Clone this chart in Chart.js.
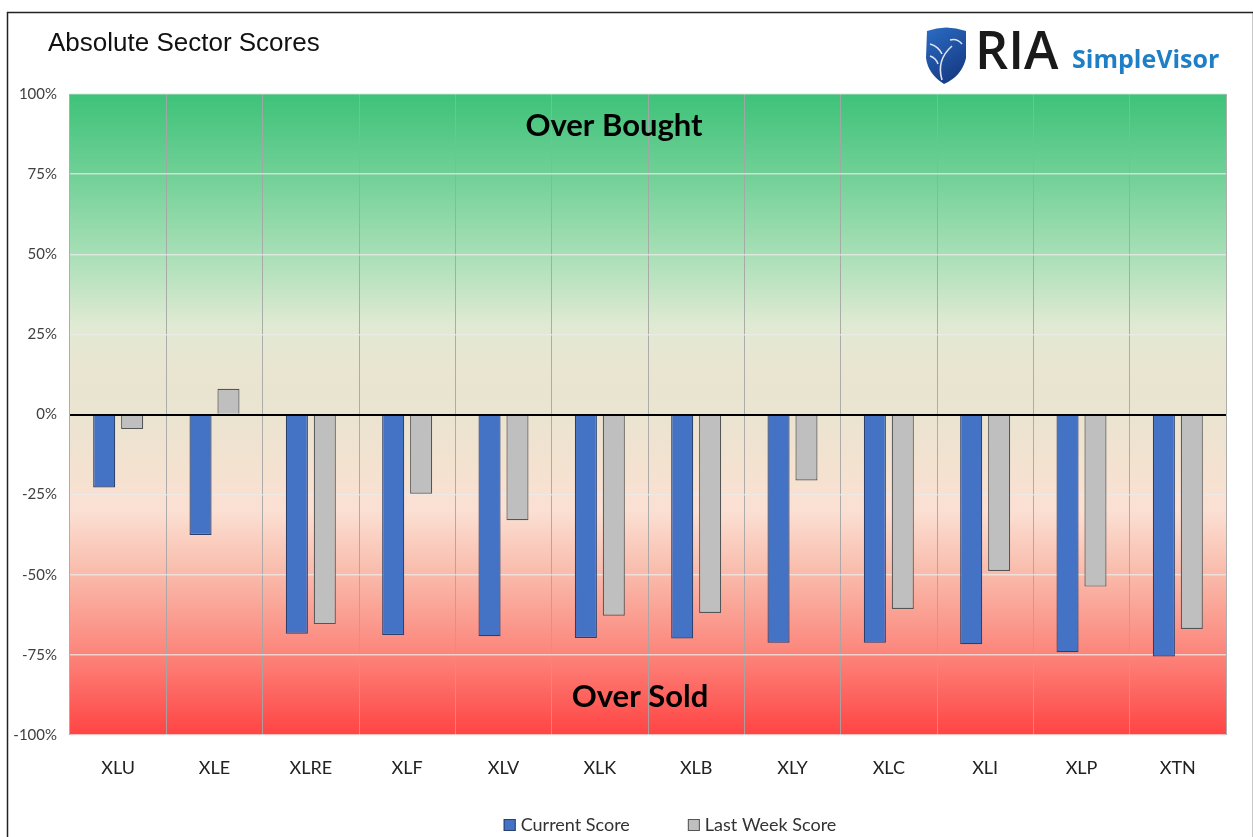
<!DOCTYPE html>
<html>
<head>
<meta charset="utf-8">
<script src="https://cdn.jsdelivr.net/npm/chart.js@4.4.1/dist/chart.umd.min.js"></script>
<style>
  html, body { margin: 0; padding: 0; background: #fff; }
  #wrap { width: 1253px; height: 837px; position: relative; }
</style>
</head>
<body>
<div id="wrap"><canvas id="sectorChart" width="1253" height="837"></canvas></div>
<script>
// data
const sectors = ['XLU', 'XLE', 'XLRE', 'XLF', 'XLV', 'XLK', 'XLB', 'XLY', 'XLC', 'XLI', 'XLP', 'XTN'];
const currentScore = [-22.8, -37.6, -68.4, -68.8, -69.2, -69.7, -69.9, -71.2, -71.2, -71.7, -74.2, -75.5];
const lastWeekScore = [-4.5, 8, -65.4, -24.7, -33, -62.8, -61.9, -20.6, -60.7, -48.8, -53.7, -66.9];
const seriesNames = ['Current Score', 'Last Week Score'];
const yTicks = [-100, -75, -50, -25, 0, 25, 50, 75, 100];

const chartTitle = 'Absolute Sector Scores';
const zoneTop = 'Over Bought';
const zoneBottom = 'Over Sold';

const blue = '#4472c4';
const grey = '#bfbfbf';

// background, frame, title, logo
const backdrop = {
    id: 'backdrop',
    beforeDraw(chart) {
        const ctx = chart.ctx;
        const area = chart.chartArea;
        const y = chart.scales.y;
        ctx.save();
        ctx.fillStyle = '#fff';
        ctx.fillRect(0, 0, chart.width, chart.height);

        // frame
        ctx.strokeStyle = '#222';
        ctx.lineWidth = 1.5;
        ctx.strokeRect(7.5, 12.5, 1246, 900);

        // zone gradient
        const g = ctx.createLinearGradient(0, y.getPixelForValue(100), 0, y.getPixelForValue(-100));
        const stops = [
            [100, 'rgb(62,194,121)'],
            [75, 'rgb(112,208,150)'],
            [50, 'rgb(168,223,182)'],
            [28, 'rgb(224,234,211)'],
            [15, 'rgb(233,229,209)'],
            [0, 'rgb(234,228,208)'],
            [-15, 'rgb(243,226,208)'],
            [-30, 'rgb(251,224,211)'],
            [-50, 'rgb(249,186,170)'],
            [-75, 'rgb(252,132,122)'],
            [-100, 'rgb(255,68,68)']
        ];
        stops.forEach(s => g.addColorStop((100 - s[0]) / 200, s[1]));
        ctx.fillStyle = g;
        ctx.fillRect(area.left, area.top, area.right - area.left, area.bottom - area.top);

        // title
        ctx.fillStyle = '#111';
        ctx.font = '26px "Liberation Sans", Arial, sans-serif';
        ctx.textBaseline = 'middle';
        ctx.textAlign = 'left';
        ctx.fillText(chartTitle, 48, 44);

        // logo shield
        const sg = ctx.createLinearGradient(926, 28, 966, 84);
        sg.addColorStop(0, '#2b6cc4');
        sg.addColorStop(1, '#13337a');
        ctx.fillStyle = sg;
        ctx.beginPath();
        ctx.moveTo(927, 31);
        ctx.quadraticCurveTo(946, 24, 966, 31);
        ctx.lineTo(966, 58);
        ctx.quadraticCurveTo(962, 76, 944, 84);
        ctx.quadraticCurveTo(928, 74, 926, 58);
        ctx.closePath();
        ctx.fill();
        ctx.strokeStyle = 'rgba(255,255,255,0.85)';
        ctx.lineWidth = 1.6;
        ctx.beginPath();
        ctx.moveTo(942, 80);
        ctx.quadraticCurveTo(936, 60, 952, 46);
        ctx.moveTo(950, 40);
        ctx.quadraticCurveTo(957, 38, 962, 44);
        ctx.moveTo(930, 44);
        ctx.quadraticCurveTo(938, 46, 942, 54);
        ctx.moveTo(930, 56);
        ctx.quadraticCurveTo(936, 58, 938, 64);
        ctx.stroke();

        ctx.fillStyle = '#1a1a1a';
        ctx.font = '600 52px "Open Sans", sans-serif';
        ctx.textBaseline = 'alphabetic';
        ctx.fillText('RIA', 975, 69);
        ctx.fillStyle = '#1f7fc6';
        ctx.font = 'bold 25px "Open Sans", sans-serif';
        ctx.fillText('SimpleVisor', 1072, 68);
        ctx.restore();
    }
};

// zero line, zone labels, legend
const overlay = {
    id: 'overlay',
    afterDatasetsDraw(chart) {
        const ctx = chart.ctx;
        const area = chart.chartArea;
        const y = chart.scales.y;
        ctx.save();
        const y0 = Math.round(y.getPixelForValue(0));
        ctx.strokeStyle = '#000';
        ctx.lineWidth = 2;
        ctx.beginPath();
        ctx.moveTo(area.left, y0);
        ctx.lineTo(area.right, y0);
        ctx.stroke();

        ctx.fillStyle = '#000';
        ctx.font = 'bold 31px Lato, sans-serif';
        ctx.textAlign = 'center';
        ctx.textBaseline = 'middle';
        ctx.fillText(zoneTop, 614, y.getPixelForValue(90));
        ctx.fillText(zoneBottom, 640, y.getPixelForValue(-88));

        // legend
        ctx.font = '18px Lato, sans-serif';
        ctx.textAlign = 'left';
        const colors = [[blue, '#2a3f6b'], [grey, '#555']];
        const box = 12, gap = 5, itemGap = 58;
        const w = seriesNames.map(n => box + gap + ctx.measureText(n).width);
        let x = 670 - (w[0] + w[1] + itemGap) / 2;
        const ly = 825;
        seriesNames.forEach((n, i) => {
            ctx.fillStyle = colors[i][0];
            ctx.fillRect(x, ly - 6, box, box);
            ctx.strokeStyle = colors[i][1];
            ctx.lineWidth = 1;
            ctx.strokeRect(x + 0.5, ly - 5.5, box - 1, box - 1);
            ctx.fillStyle = '#333';
            ctx.fillText(n, x + box + gap, ly);
            x += w[i] + itemGap;
        });
        ctx.restore();
    }
};

const config = {
    type: 'bar',
    data: {
        labels: sectors,
        datasets: [{
                label: seriesNames[0],
                data: currentScore,
                backgroundColor: blue,
                borderColor: '#2a3f6b',
                borderWidth: 1.2,
                categoryPercentage: 0.58,
                barPercentage: 0.79
            },
            {
                label: seriesNames[1],
                data: lastWeekScore,
                backgroundColor: grey,
                borderColor: '#555',
                borderWidth: 1.2,
                categoryPercentage: 0.58,
                barPercentage: 0.79
            }
        ]
    },
    options: {
        responsive: false,
        animation: false,
        layout: {
            padding: { top: 94, right: 27, bottom: 0, left: 10 }
        },
        plugins: {
            legend: { display: false },
            tooltip: { enabled: false }
        },
        scales: {
            x: {
                afterFit: s => { s.height = 102; },
                border: { display: false },
                grid: {
                    offset: true,
                    drawTicks: false,
                    color: 'rgba(165,165,165,0.9)',
                    lineWidth: 1
                },
                ticks: {
                    padding: 22,
                    color: '#222',
                    font: { family: 'Lato', size: 18 }
                }
            },
            y: {
                min: -100,
                max: 100,
                afterFit: s => { s.width = 60; },
                afterBuildTicks: s => { s.ticks = yTicks.map(v => ({ value: v })); },
                border: { display: false },
                grid: {
                    drawTicks: false,
                    color: 'rgba(235,235,235,0.75)',
                    lineWidth: 1.5
                },
                ticks: {
                    padding: 13,
                    color: '#404040',
                    font: { family: 'Lato', size: 15 },
                    callback: v => v + '%'
                }
            }
        }
    },
    plugins: [backdrop, overlay]
};

const sectorChart = new Chart(document.getElementById('sectorChart'), config);
</script>
</body>
</html>
